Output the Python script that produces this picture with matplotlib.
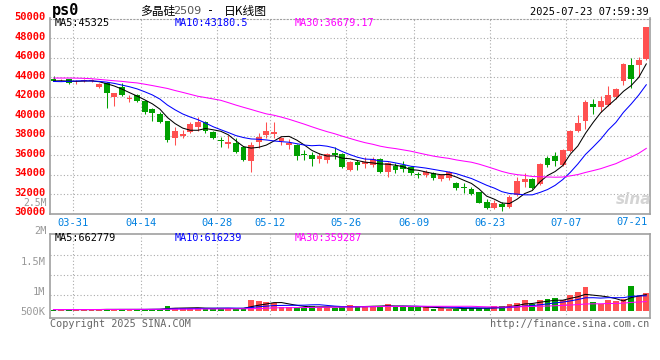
import matplotlib
matplotlib.use('Agg')
import matplotlib.pyplot as plt
import matplotlib.transforms as mtransforms
import numpy as np
import pandas as pd

plt.rcParams['font.family'] = ['DejaVu Sans Mono', 'Noto Sans CJK SC']

# trading days shown (2025-03-27 .. 2025-07-22, Chinese holidays removed)
holidays = ['2025-04-04', '2025-05-01', '2025-05-02', '2025-05-05', '2025-06-02']
days = pd.bdate_range('2025-03-27', '2025-07-22')
days = days[~days.isin(pd.to_datetime(holidays))]
tick_labels = ['03-31', '04-14', '04-28', '05-12', '05-26', '06-09', '06-23', '07-07', '07-21']

open_ = [43850, 43650, 43750, 43450, 43580, 43550, 43000, 43350, 41970, 43000,
         41750, 42150, 41530, 40700, 40200, 39480, 37720, 37980, 38330, 38900,
         39380, 38400, 37550, 37140, 37200, 36800, 35420, 37370, 38050, 38150,
         37470, 37030, 37030, 36080, 36000, 35600, 35500, 36180, 36100, 34470,
         35320, 35080, 34980, 35590, 34300, 34880, 34980, 34740, 34060, 33960,
         34190, 33520, 33680, 33110, 32760, 32530, 32190, 31230, 30610, 30990,
         30720, 31910, 33270, 33520, 33040, 35730, 35900, 34980, 36450, 38490,
         39480, 41260, 40950, 41120, 41970, 43610, 45200, 45200, 45830]
high = [44080, 43850, 43800, 43650, 43850, 43800, 43400, 43450, 42350, 43350,
        42140, 42300, 41650, 40800, 40370, 39500, 38900, 38560, 39410, 39920,
        39480, 38500, 37880, 38050, 37710, 36900, 37370, 38220, 39410, 39420,
        37880, 37610, 37100, 36520, 36350, 36170, 36200, 36790, 36200, 35400,
        35500, 35770, 35770, 35700, 35320, 35200, 35420, 34900, 34230, 34470,
        34300, 34100, 34400, 33200, 33100, 32700, 32200, 31550, 31400, 31150,
        31900, 33750, 34130, 33700, 35200, 35900, 36340, 36600, 38600, 40100,
        41700, 41800, 42040, 43060, 42900, 45450, 46000, 46060, 49150]
low = [43560, 43550, 43300, 43250, 43500, 43480, 42880, 40850, 41050, 42050,
       41400, 41400, 40170, 39520, 39310, 37370, 37030, 37710, 38220, 38460,
       38300, 37650, 36850, 36690, 36250, 35390, 34300, 36690, 37710, 37710,
       37000, 36590, 35490, 35490, 34880, 35220, 35220, 35560, 34640, 34370,
       34470, 34640, 34810, 34190, 33780, 34200, 34300, 34000, 33620, 33790,
       33500, 33400, 33500, 32450, 32150, 31900, 31050, 30500, 30450, 30310,
       30600, 31800, 32760, 32500, 32900, 34800, 34880, 34900, 36300, 38400,
       38630, 40200, 40430, 41000, 41800, 43170, 42830, 44010, 45700]
close = [43600, 43720, 43400, 43500, 43720, 43700, 43300, 42380, 42320, 42150,
         41870, 41550, 40450, 40280, 39420, 37550, 38450, 38150, 39180, 39410,
         38450, 37800, 37400, 37370, 36300, 35500, 37030, 37820, 38490, 38390,
         37710, 37200, 35930, 35980, 35600, 35930, 36100, 36000, 34810, 35320,
         34980, 35320, 35590, 34300, 35160, 34470, 34550, 34130, 33940, 34300,
         33630, 33960, 34300, 32600, 32620, 32020, 31130, 30620, 31060, 30650,
         31740, 33350, 33520, 32600, 35080, 34980, 35420, 36520, 38490, 39310,
         41430, 40950, 41530, 42140, 42760, 45320, 43840, 45720, 49100]
volume = [70000, 70000, 70000, 70000, 70000, 70000, 70000, 100000, 70000, 70000,
          70000, 70000, 90000, 90000, 90000, 200000, 150000, 120000, 120000, 120000,
          120000, 120000, 120000, 120000, 80000, 150000, 450000, 420000, 360000, 350000,
          170000, 170000, 150000, 150000, 220000, 190000, 170000, 150000, 170000, 240000,
          200000, 200000, 200000, 200000, 290000, 160000, 200000, 160000, 160000, 160000,
          110000, 130000, 110000, 110000, 130000, 130000, 130000, 130000, 200000, 200000,
          290000, 330000, 450000, 290000, 450000, 490000, 530000, 450000, 670000, 770000,
          970000, 370000, 290000, 470000, 430000, 510000, 1030000, 630000, 730000]

ma5_head = [43600, 43620, 43580, 43560]
ma10_head = [43550, 43530, 43560, 43600, 43620, 43600, 43560, 43480, 43350]
ma30_head = [43900, 43900, 43900, 43890, 43870, 43830, 43760, 43690, 43620, 43560,
             43470, 43400, 43270, 43130, 42980, 42830, 42620, 42430, 42230, 42030,
             41900, 41760, 41620, 41380, 41130, 40900, 40680, 40450, 40230]
vma5_head = [70000, 70000, 70000, 70000]
vma10_head = [70000, 70000, 70000, 70000, 70000, 70000, 70000, 72000, 72000]
vma30_head = [70000, 70000, 70000, 70000, 70000, 71000, 72000, 73000, 74000, 75000,
              76000, 77000, 78000, 79000, 80000, 82000, 84000, 86000, 88000, 90000,
              92000, 94000, 96000, 98000, 100000, 102000, 105000, 110000, 120000]


def moving(values, n, head):
    s = pd.Series(values, dtype=float).rolling(n).mean()
    s.iloc[:n - 1] = head
    return s.values


ma5 = moving(close, 5, ma5_head)
ma10 = moving(close, 10, ma10_head)
ma30 = moving(close, 30, ma30_head)
vma5 = moving(volume, 5, vma5_head)
vma10 = moving(volume, 10, vma10_head)
vma30 = moving(volume, 30, vma30_head)

o = np.array(open_)
c = np.array(close)
x = np.arange(len(c))
up = c >= o
RED = '#ff5050'
GREEN = '#00a000'
colors = np.where(up, RED, GREEN)
GRID = '#aaaaaa'
EDGE = '#a0a0a0'
LW = 0.75

W, H = 660, 360
fig = plt.figure(figsize=(6.6, 3.6), dpi=100)


def box(x0, y0, x1, y1):
    return [x0 / W, 1 - y1 / H, (x1 - x0) / W, (y1 - y0) / H]


def ftext(px, py, s, **kw):
    fig.text(px / W, 1 - py / H, s, **kw)


ax = fig.add_axes(box(50.5, 18.5, 650, 213.7))
axv = fig.add_axes(box(50.5, 234, 650, 318))

tick_idx = [days.get_loc(pd.Timestamp('2025-' + t)) for t in tick_labels]
grid_x = [i + 0.5 for i in tick_idx[:-1]]

# price panel
ax.vlines(x, low, high, colors=colors, linewidth=LW, zorder=3)
body = np.maximum(np.abs(c - o), 60)
ax.bar(x, body, bottom=np.minimum(o, c), width=0.78, color=colors, linewidth=0, zorder=4)
ax.plot(x, ma5, color='black', lw=LW, zorder=5)
ax.plot(x, ma10, color='#0000ff', lw=LW, zorder=5)
ax.plot(x, ma30, color='#ff00ff', lw=LW, zorder=5)

ax.set_xlim(-0.395, 78.49)
ax.set_ylim(30000, 50000)
ax.set_yticks(range(30000, 50001, 2000))
ax.tick_params(axis='y', length=0, pad=3.5, labelcolor='#ff0000', labelsize=7.5)
lift = mtransforms.ScaledTranslation(0, 2.5 / 100, fig.dpi_scale_trans)
for t in ax.get_yticklabels():
    t.set_fontweight('bold')
    t.set_transform(t.get_transform() + lift)
ax.set_xticks(grid_x)
ax.set_xticklabels(tick_labels[:-1])
ax.tick_params(axis='x', length=0, pad=3, labelcolor='#0080e0', labelsize=7.5)
ax.grid(True, linestyle=(0, (1, 2)), color=GRID, linewidth=0.8)
ax.set_axisbelow(True)
for name, sp in ax.spines.items():
    sp.set_color(EDGE)
    sp.set_linewidth(1.2)
ax.spines['top'].set_linestyle((0, (1, 2)))
ax.spines['top'].set_linewidth(0.8)

# volume panel
axv.bar(x, volume, width=0.78, color=colors, linewidth=0, zorder=3)
axv.plot(x, vma5, color='black', lw=LW, zorder=4)
axv.plot(x, vma10, color='#0000ff', lw=LW, zorder=4)
axv.plot(x, vma30, color='#ff00ff', lw=LW, zorder=4)
axv.set_xlim(-0.395, 78.49)
axv.set_ylim(-268000, 3092000)
axv.set_xticks(grid_x)
axv.set_xticklabels([])
axv.tick_params(axis='x', length=0)
axv.grid(True, axis='x', linestyle=(0, (1, 2)), color=GRID, linewidth=0.8)
for v in [650000, 1450000, 2250000]:
    axv.axhline(v, linestyle=(0, (1, 2)), color=GRID, linewidth=0.8, zorder=1)
axv.set_yticks([10000, 810000, 2010000])
axv.set_yticklabels(['500K', '1M', '1.5M'])
axv.tick_params(axis='y', length=0, pad=3.5, labelcolor='#999999', labelsize=7.5)
for sp in axv.spines.values():
    sp.set_color(EDGE)
    sp.set_linewidth(1.2)

# texts
ftext(52, 11, 'ps0', fontsize=11, fontweight='bold', va='center')
ftext(140, 11, '多晶硅', family=['Noto Sans CJK SC'], fontsize=8.5, va='center')
ftext(173, 11, '2509', family=['DejaVu Sans'], fontsize=8, color='#555555', va='center')
ftext(207, 11, '-', fontsize=8.5, va='center')
ftext(224, 11, '日K线图', family=['Noto Sans CJK SC'], fontsize=8.5, va='center')
ftext(649, 12, '2025-07-23 07:59:39', fontsize=7.5, ha='right', va='center')
ftext(55, 23.5, 'MA5:45325', fontsize=7.3, va='center', color='black')
ftext(175, 23.5, 'MA10:43180.5', fontsize=7.3, va='center', color='#0000ff')
ftext(295, 23.5, 'MA30:36679.17', fontsize=7.3, va='center', color='#ff00ff')
ftext(55, 238, 'MA5:662779', fontsize=7.3, va='center', color='black')
ftext(175, 238, 'MA10:616239', fontsize=7.3, va='center', color='#0000ff')
ftext(295, 238, 'MA30:359287', fontsize=7.3, va='center', color='#ff00ff')
ftext(648, 222, tick_labels[-1], fontsize=7.5, ha='right', va='center', color='#0080e0')
ftext(46.5, 203, '2.5M', fontsize=7, ha='right', va='center', color='#999999')
ftext(46.5, 231, '2M', fontsize=7.5, ha='right', va='center', color='#999999')
ftext(50, 324, 'Copyright 2025 SINA.COM', fontsize=7.3, va='center', color='#666666')
ftext(649, 324, 'http://finance.sina.com.cn', fontsize=7.3, ha='right', va='center', color='#666666')
ftext(634, 200, 'sina', fontsize=11, fontweight='bold', style='italic', ha='center', va='center',
      color='#d4d4d4', family=['DejaVu Sans'])

fig.savefig('out.png', dpi=100)
